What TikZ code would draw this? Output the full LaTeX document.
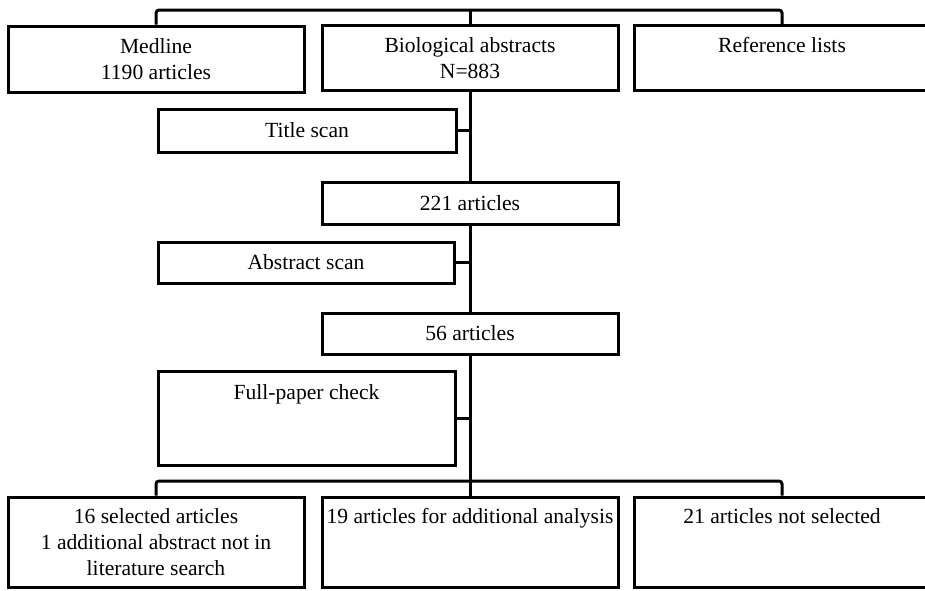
\documentclass[tikz,border=0pt]{standalone}
\usepackage{fontspec}
\setmainfont{Liberation Serif}
\usepackage{tikz}
\usetikzlibrary{positioning}

\begin{document}
\begin{tikzpicture}[x=1pt, y=-1pt, line width=3pt,
  stagebox/.style={draw, fill=white, minimum width=296pt, inner sep=0pt,
    align=center, font=\fontsize{21.6}{26}\selectfont},
  bar/.style={rounded corners=3pt}]
  \useasboundingbox (0,0) rectangle (925,590);
  \clip (0,0) rectangle (925,590);

  % Row 1: sources
  \node[stagebox, minimum height=66pt] (medline) at (156,59) {Medline\\1190 articles};
  \node[stagebox, minimum height=65pt] (bio) at (470,58) {Biological abstracts\\N=883};
  \node[stagebox, minimum height=65pt] (reflist) at (782,58) {Reference lists\\\mbox{}};

  % Screening steps
  \node[stagebox, minimum width=298pt, minimum height=43pt] (title) at (307,130.5) {Title scan};
  \node[stagebox, minimum height=42pt] (art221) at (470,203) {221 articles};
  \node[stagebox, minimum height=41pt] (abstract) at (306,262.5) {Abstract scan};
  \node[stagebox, minimum height=41pt] (art56) at (470,333.5) {56 articles};
  \node[stagebox, minimum width=297pt, minimum height=94pt] (fullpaper) at (306.5,418) {Full-paper check\\\mbox{}\\\mbox{}};

  % Row 2: outcome
  \node[stagebox, minimum height=90pt] (selected) at (156,542) {16 selected articles\\1 additional abstract not in\\literature search};
  \node[stagebox, minimum height=90pt, align=left] (additional) at (470,542) {19 articles for additional analysis\\\mbox{}\\\mbox{}};
  \node[stagebox, minimum height=90pt] (notsel) at (782,542) {21 articles not selected\\\mbox{}\\\mbox{}};

  % Connectors
  \coordinate (topbar) at (470,10);
  \coordinate (botbar) at (470,481);
  \draw[bar] (medline.north) |- (topbar) -| (reflist.north);
  \draw (bio.north) -- (topbar);
  \draw (bio.south) -- (art221.north);
  \draw (art221.south) -- (art56.north);
  \draw (art56.south) -- (botbar);
  \draw (title.east) -- (title.east -| bio.south);
  \draw (abstract.east) -- (abstract.east -| bio.south);
  \draw (fullpaper.east) -- (fullpaper.east -| bio.south);
  \draw[bar] (selected.north) |- (botbar) -| (notsel.north);
  \draw (additional.north) -- (botbar);
\end{tikzpicture}
\end{document}
